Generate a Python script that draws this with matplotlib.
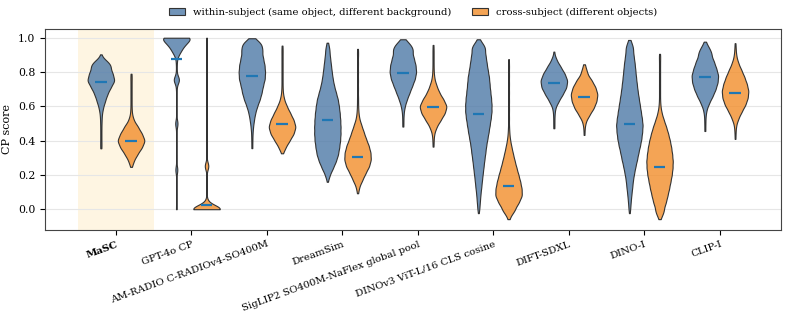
import numpy as np
import matplotlib.pyplot as plt
from matplotlib.colors import to_rgba
from matplotlib.patches import Patch

plt.rcParams['font.family'] = 'DejaVu Serif'

categories = ["MaSC", "GPT-4o CP", "AM-RADIO C-RADIOv4-SO400M", "DreamSim",
              "SigLIP2 SO400M-NaFlex global pool", "DINOv3 ViT-L/16 CLS cosine",
              "DIFT-SDXL", "DINO-I", "CLIP-I"]

# score levels and (relative) counts
within_levels = [
    [0.355, 0.39, 0.43, 0.47, 0.51, 0.55, 0.59, 0.63, 0.67, 0.71, 0.75, 0.79, 0.83, 0.86, 0.903],
    [0.0, 0.05, 0.10, 0.16, 0.23, 0.30, 0.37, 0.44, 0.50, 0.57, 0.64, 0.70, 0.755, 0.81, 0.855, 0.90, 0.93, 0.965, 1.0],
    [0.356, 0.40, 0.44, 0.48, 0.52, 0.56, 0.60, 0.64, 0.68, 0.72, 0.76, 0.80, 0.84, 0.88, 0.92, 0.955, 0.98, 0.997],
    [0.16, 0.20, 0.24, 0.28, 0.32, 0.36, 0.40, 0.44, 0.48, 0.52, 0.56, 0.60, 0.64, 0.68, 0.72, 0.76, 0.80, 0.84, 0.88, 0.92, 0.95, 0.971],
    [0.482, 0.52, 0.56, 0.60, 0.64, 0.68, 0.72, 0.76, 0.80, 0.84, 0.88, 0.92, 0.95, 0.975, 0.991],
    [-0.023, 0.01, 0.05, 0.09, 0.13, 0.17, 0.21, 0.25, 0.29, 0.33, 0.37, 0.41, 0.45, 0.49, 0.53, 0.57, 0.61, 0.65, 0.69, 0.73, 0.77, 0.81, 0.85, 0.89, 0.93, 0.96, 0.991],
    [0.472, 0.51, 0.55, 0.59, 0.63, 0.67, 0.71, 0.75, 0.79, 0.83, 0.87, 0.919],
    [-0.023, 0.01, 0.05, 0.09, 0.13, 0.17, 0.21, 0.25, 0.29, 0.33, 0.37, 0.41, 0.45, 0.49, 0.53, 0.57, 0.61, 0.65, 0.69, 0.73, 0.77, 0.81, 0.85, 0.89, 0.93, 0.96, 0.987],
    [0.456, 0.50, 0.54, 0.58, 0.62, 0.66, 0.70, 0.74, 0.78, 0.82, 0.86, 0.90, 0.93, 0.955, 0.977],
]
within_counts = [
    [4, 4, 4, 4, 5, 7, 15, 30, 46, 70, 100, 85, 65, 40, 2],
    [4, 3, 3, 3, 12, 3, 3, 3, 14, 3, 3, 4, 32, 4, 5, 15, 42, 78, 140],
    [4, 4, 5, 9, 16, 25, 40, 60, 74, 84, 98, 100, 96, 85, 75, 62, 30, 4],
    [3, 18, 42, 64, 80, 88, 95, 98, 98, 96, 92, 86, 78, 64, 50, 40, 33, 27, 21, 15, 8, 2],
    [4, 4, 6, 14, 30, 50, 70, 90, 100, 95, 82, 66, 48, 22, 3],
    [2, 8, 12, 16, 22, 27, 33, 39, 45, 52, 58, 67, 76, 84, 92, 98, 98, 94, 88, 83, 79, 70, 62, 55, 46, 30, 5],
    [4, 4, 5, 10, 35, 65, 92, 100, 80, 50, 20, 3],
    [2, 7, 11, 16, 22, 27, 36, 46, 58, 68, 80, 90, 96, 100, 94, 86, 78, 70, 62, 56, 50, 45, 40, 33, 26, 16, 4],
    [4, 4, 5, 12, 32, 58, 80, 95, 100, 85, 68, 45, 28, 12, 2],
]
cross_levels = [
    [0.247, 0.28, 0.32, 0.36, 0.40, 0.44, 0.48, 0.52, 0.56, 0.60, 0.64, 0.68, 0.72, 0.76, 0.79],
    [0.0, 0.025, 0.06, 0.12, 0.18, 0.252, 0.32, 0.40, 0.48, 0.56, 0.64, 0.72, 0.80, 0.88, 0.94, 1.0],
    [0.326, 0.36, 0.40, 0.44, 0.48, 0.52, 0.56, 0.60, 0.64, 0.68, 0.72, 0.76, 0.80, 0.84, 0.88, 0.92, 0.954],
    [0.093, 0.13, 0.17, 0.21, 0.25, 0.29, 0.33, 0.37, 0.41, 0.45, 0.49, 0.53, 0.57, 0.61, 0.65, 0.70, 0.75, 0.80, 0.85, 0.90, 0.935],
    [0.365, 0.40, 0.44, 0.48, 0.52, 0.56, 0.60, 0.64, 0.68, 0.72, 0.76, 0.80, 0.84, 0.88, 0.92, 0.958],
    [-0.058, -0.03, 0.0, 0.04, 0.08, 0.12, 0.16, 0.20, 0.24, 0.28, 0.32, 0.36, 0.40, 0.44, 0.48, 0.53, 0.58, 0.63, 0.68, 0.73, 0.78, 0.83, 0.875],
    [0.433, 0.47, 0.51, 0.55, 0.59, 0.63, 0.67, 0.71, 0.75, 0.79, 0.82, 0.845],
    [-0.058, -0.03, 0.0, 0.04, 0.08, 0.12, 0.16, 0.20, 0.24, 0.28, 0.32, 0.36, 0.40, 0.44, 0.48, 0.52, 0.56, 0.60, 0.64, 0.68, 0.72, 0.76, 0.80, 0.84, 0.88, 0.906],
    [0.41, 0.45, 0.49, 0.53, 0.57, 0.61, 0.65, 0.69, 0.73, 0.77, 0.81, 0.85, 0.89, 0.93, 0.968],
]
cross_counts = [
    [3, 18, 45, 78, 100, 78, 50, 18, 6, 4, 4, 4, 4, 4, 3],
    [170, 25, 4, 3, 3, 24, 3, 3, 3, 3, 3, 3, 3, 3, 3, 4],
    [3, 25, 55, 85, 100, 85, 60, 35, 15, 6, 4, 4, 4, 4, 4, 4, 3],
    [3, 12, 35, 58, 85, 98, 95, 82, 62, 45, 28, 12, 6, 4, 4, 4, 4, 4, 4, 4, 3],
    [3, 4, 8, 25, 55, 85, 100, 75, 45, 25, 10, 5, 4, 4, 4, 3],
    [3, 15, 45, 75, 98, 95, 85, 72, 58, 45, 33, 22, 12, 6, 4, 4, 4, 4, 4, 4, 4, 4, 3],
    [3, 4, 12, 40, 72, 92, 100, 85, 58, 22, 10, 3],
    [3, 18, 30, 48, 60, 72, 82, 92, 98, 100, 95, 88, 78, 65, 50, 32, 16, 7, 4, 4, 4, 4, 4, 4, 4, 3],
    [3, 4, 8, 25, 50, 78, 95, 100, 88, 70, 48, 25, 10, 5, 3],
]
within_medians = [0.74, 0.875, 0.775, 0.52, 0.797, 0.554, 0.738, 0.495, 0.773]
cross_medians = [0.40, 0.023, 0.495, 0.307, 0.597, 0.136, 0.653, 0.246, 0.677]

blue = '#4E79A7'
orange = '#F28E2B'
bw = 0.022


def make_stats(levels, counts, median):
    lv = np.array(levels)
    ct = np.array(counts, dtype=float)
    ys = np.linspace(lv.min(), lv.max(), 400)
    dens = (ct[None, :] * np.exp(-0.5 * ((ys[:, None] - lv[None, :]) / bw) ** 2)).sum(axis=1)
    return dict(coords=ys, vals=dens, mean=np.average(lv, weights=ct), median=median,
                min=lv.min(), max=lv.max(), quantiles=[])


fig = plt.figure(figsize=(7.89, 3.15), dpi=100)
ax = fig.add_axes([0.057, 0.27, 0.933, 0.638])
ax.axvspan(-0.5, 0.5, color='#fef5e2', zorder=0, lw=0)

pos = np.arange(len(categories))
groups = [(within_levels, within_counts, within_medians, -0.2, blue),
          (cross_levels, cross_counts, cross_medians, 0.2, orange)]
for levels, counts, meds, off, col in groups:
    stats = [make_stats(l, c, m) for l, c, m in zip(levels, counts, meds)]
    parts = ax.violin(stats, positions=pos + off, widths=0.35, showextrema=False)
    for b in parts['bodies']:
        b.set_alpha(None)
        b.set_facecolor(to_rgba(col, 0.8))
        b.set_edgecolor('#333333')
        b.set_linewidth(0.8)
        b.set_zorder(2)
    ax.hlines(meds, pos + off - 0.075, pos + off + 0.075, color='#1f77b4', lw=1.6, zorder=3)

ax.set_xlim(-0.94, 8.81)
ax.set_ylim(-0.121, 1.051)
ax.set_yticks([0.0, 0.2, 0.4, 0.6, 0.8, 1.0])
ax.yaxis.grid(True, color='#e6e6e6', lw=0.8)
ax.set_axisbelow(True)
ax.set_xticks(pos)
ax.set_xticklabels(categories, rotation=20, ha='right', rotation_mode='anchor', fontsize=7.3)
ax.get_xticklabels()[0].set_fontweight('bold')
ax.tick_params(axis='y', labelsize=7.8)
ax.set_ylabel('CP score', fontsize=8)
for s in ax.spines.values():
    s.set_color('#444444')
    s.set_linewidth(0.8)

handles = [Patch(facecolor=to_rgba(blue, 0.8), edgecolor='#333333', lw=0.8),
           Patch(facecolor=to_rgba(orange, 0.8), edgecolor='#333333', lw=0.8)]
ax.legend(handles, ['within-subject (same object, different background)',
                    'cross-subject (different objects)'],
          loc='lower center', bbox_to_anchor=(0.5, 1.015), ncol=2, frameon=False,
          fontsize=7.2, handlelength=1.6, columnspacing=2.0)

fig.savefig('out.png', dpi=100)
